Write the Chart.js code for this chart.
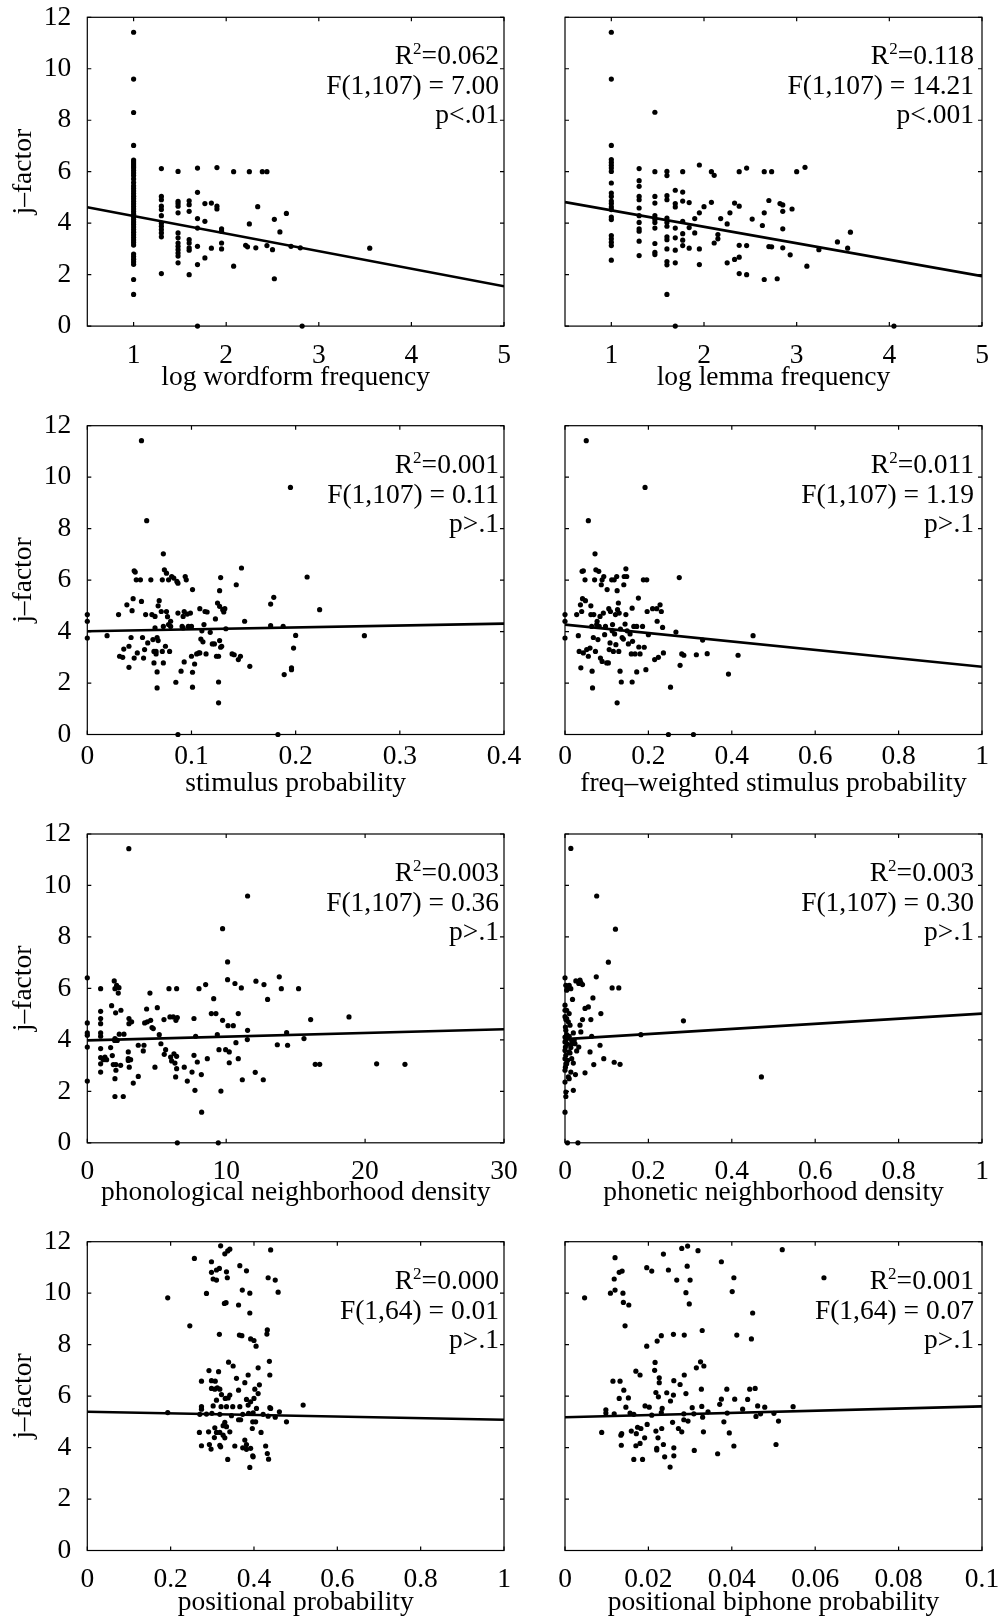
<!DOCTYPE html>
<html>
<head>
<meta charset="utf-8">
<script src="https://cdn.jsdelivr.net/npm/chart.js@4.4.0/dist/chart.umd.min.js"></script>
<style>
  html, body { margin: 0; padding: 0; background: #fff; overflow: hidden; }
  body { width: 1001px; height: 1619px; position: relative; }
  canvas { position: absolute; }
</style>
</head>
<body>
<script>
// tick labels
const jTicks = [0, 2, 4, 6, 8, 10, 12];
const freqTicks = [1, 2, 3, 4, 5];
const stimTicks = [0, 0.1, 0.2, 0.3, 0.4];
const unitTicks = [0, 0.2, 0.4, 0.6, 0.8, 1];
const densTicks = [0, 10, 20, 30];
const biphoneTicks = [0, 0.02, 0.04, 0.06, 0.08, 0.1];

const xTitles = ['log wordform frequency', 'log lemma frequency', 'stimulus probability',
  'freq\u2013weighted stimulus probability', 'phonological neighborhood density',
  'phonetic neighborhood density', 'positional probability', 'positional biphone probability'];

// fit statistics shown in each panel
const r2Values = ['0.062', '0.118', '0.001', '0.011', '0.003', '0.003', '0.000', '0.001'];
const fValues = ['F(1,107) = 7.00', 'F(1,107) = 14.21', 'F(1,107) = 0.11', 'F(1,107) = 1.19',
  'F(1,107) = 0.36', 'F(1,107) = 0.30', 'F(1,64) = 0.01', 'F(1,64) = 0.07'];
const pValues = ['p<.01', 'p<.001', 'p>.1', 'p>.1', 'p>.1', 'p>.1', 'p>.1', 'p>.1'];

// regression line end points [x, j-factor]
const wordformFit = [[0.5, 4.62], [5, 1.55]];
const lemmaFit = [[0.5, 4.82], [5, 1.94]];
const stimFit = [[0, 4.01], [0.4, 4.31]];
const fwStimFit = [[0, 4.27], [1, 2.63]];
const phonFit = [[0, 3.98], [30, 4.41]];
const phonetFit = [[0, 4.03], [1, 5.02]];
const posFit = [[0, 5.39], [1, 5.08]];
const biphoneFit = [[0, 5.18], [0.1, 5.60]];

// scatter points [x, j-factor]
const wordformPts = [
  [1,11.42],[1,9.6],[1,8.3],[1,7.02],[1,6.45],[1,6.38],[1,6.3],[1,6.22],[1,6.15],[1,6.05],[1,5.95],[1,5.85],
  [1,5.72],[1,5.58],[1,5.45],[1,5.35],[1,5.25],[1,5.15],[1,5.05],[1,4.95],[1,4.85],[1,4.75],[1,4.65],[1,4.55],
  [1,4.45],[1,4.35],[1,4.25],[1,4.15],[1,4.05],[1,3.95],[1,3.85],[1,3.75],[1,3.65],[1,3.55],[1,3.45],[1,3.35],
  [1,3.25],[1,3.15],[1,2.8],[1,2.7],[1,2.6],[1,2.5],[1,2.4],[1,1.81],[1,1.23],
  [1.3,6.12],[1.3,5.04],[1.3,4.91],[1.3,4.66],[1.3,4.53],[1.3,4.29],[1.3,4.0],[1.3,3.88],[1.3,3.75],[1.3,3.62],[1.3,3.47],[1.3,2.04],
  [1.48,6.01],[1.48,4.85],[1.48,4.76],[1.48,4.66],[1.48,4.4],[1.48,3.62],[1.48,3.43],[1.48,3.23],[1.48,3.1],[1.48,2.97],[1.48,2.84],[1.48,2.72],[1.48,2.46],
  [1.6,4.87],[1.6,4.72],[1.6,4.46],[1.6,3.36],[1.6,3.23],[1.6,3.04],[1.6,2.95],[1.6,2.0],
  [1.69,6.14],[1.69,5.2],[1.69,4.18],[1.69,3.81],[1.69,3.1],[1.69,2.39],[1.69,0],
  [1.77,4.76],[1.77,4.07],[1.77,2.65],[1.84,4.78],[1.84,3.03],[1.9,6.16],[1.9,4.66],[1.9,4.55],
  [1.95,3.78],[1.95,3.69],[1.95,3.23],[1.95,3.0],[2.08,6.0],[2.08,2.33],[2.21,3.14],[2.23,3.08],
  [2.25,6.0],[2.25,3.97],[2.32,3.04],[2.34,4.64],[2.39,6.0],[2.44,6.0],[2.44,3.13],[2.5,2.97],
  [2.52,4.15],[2.52,1.84],[2.58,3.66],[2.65,4.38],[2.7,3.1],[2.8,3.04],[2.82,0],[3.55,3.03]
];
const lemmaPts = [
  [1,11.42],[1,9.6],[1,7.02],[1,6.47],[1,6.36],[1,6.25],[1,6.14],[1,6.01],[1,5.56],[1,5.17],[1,5.04],[1,4.86],
  [1,4.76],[1,4.63],[1,4.53],[1,4.24],[1,4.14],[1,3.52],[1,3.39],[1,3.26],[1,3.13],[1,2.56],
  [1.3,6.12],[1.3,5.65],[1.3,5.43],[1.3,5.04],[1.3,4.91],[1.3,4.59],[1.3,4.29],[1.3,4.03],[1.3,3.78],[1.3,3.69],[1.3,3.3],[1.3,2.74],
  [1.47,8.31],[1.47,6.0],[1.47,5.04],[1.47,4.78],[1.47,4.29],[1.47,4.14],[1.47,4.03],[1.47,3.81],[1.47,3.21],[1.47,2.87],[1.47,2.78],
  [1.6,6.01],[1.6,5.85],[1.6,5.07],[1.6,4.91],[1.6,4.2],[1.6,4.03],[1.6,3.88],[1.6,3.47],[1.6,3.36],[1.6,3.0],[1.6,2.51],[1.6,2.38],[1.6,1.23],
  [1.69,5.28],[1.69,4.76],[1.69,4.63],[1.69,3.81],[1.69,3.43],[1.69,2.95],[1.69,2.46],[1.69,0],
  [1.77,6.0],[1.77,5.21],[1.77,4.86],[1.77,4.07],[1.77,3.59],[1.77,3.34],[1.77,3.13],
  [1.84,4.8],[1.84,3.83],[1.84,3.03],[1.9,4.18],[1.9,3.62],[1.95,6.26],[1.95,4.4],[1.95,3.0],[1.95,2.39],
  [2.0,4.64],[2.08,6.0],[2.08,4.81],[2.11,5.86],[2.11,3.23],[2.15,3.56],[2.15,3.39],[2.18,4.18],
  [2.25,3.97],[2.25,2.46],[2.28,4.4],[2.33,4.78],[2.33,2.59],[2.38,6.0],[2.38,4.66],[2.38,3.14],[2.38,2.68],[2.38,2.04],
  [2.46,6.14],[2.46,3.13],[2.46,2.0],[2.52,4.16],[2.63,3.91],[2.65,6.0],[2.65,4.4],[2.65,1.81],[2.7,4.88],[2.7,3.09],
  [2.73,6.0],[2.73,3.08],[2.79,1.84],[2.82,4.76],[2.85,4.71],[2.85,4.46],[2.85,3.78],[2.85,3.04],[2.93,2.77],[2.95,4.55],
  [3.0,6.0],[3.09,6.17],[3.11,2.33],[3.24,2.97],[3.44,3.27],[3.55,3.03],[3.58,3.65],[4.05,0]
];
const stimPts = [
  [0,4.66],[0,4.40],[0,3.75],[0.019,3.84],[0.030,4.66],[0.031,3.04],[0.034,3.0],[0.035,3.32],[0.038,5.04],
  [0.040,3.43],[0.040,2.61],[0.042,3.77],[0.043,4.81],[0.044,5.28],[0.045,2.97],[0.045,6.36],[0.046,6.31],
  [0.047,6.01],[0.048,3.17],[0.051,6.01],[0.052,5.17],[0.052,11.42],[0.053,3.77],[0.054,2.97],[0.055,3.30],
  [0.056,4.66],[0.057,8.31],[0.058,3.56],[0.061,6.01],[0.062,4.66],[0.063,3.69],[0.064,3.23],[0.064,2.78],
  [0.065,4.14],[0.065,4.59],[0.066,3.13],[0.066,3.23],[0.067,2.43],[0.067,1.81],[0.067,3.77],[0.068,5.0],
  [0.068,3.65],[0.069,5.2],[0.071,4.78],[0.072,6.01],[0.072,3.23],[0.073,7.02],[0.073,2.78],[0.073,4.2],
  [0.074,6.40],[0.075,3.43],[0.076,4.78],[0.076,6.27],[0.077,4.58],[0.078,6.01],[0.078,4.27],[0.079,3.23],
  [0.080,4.40],[0.080,4.2],[0.081,6.14],[0.083,6.08],[0.085,2.03],[0.086,5.95],[0.087,4.72],[0.087,0],
  [0.087,5.88],[0.090,2.46],[0.091,4.2],[0.092,4.59],[0.092,4.14],[0.093,2.82],[0.093,4.78],[0.094,6.14],
  [0.095,6.01],[0.096,4.68],[0.097,4.2],[0.099,4.72],[0.100,4.2],[0.100,3.04],[0.101,1.84],[0.101,2.42],
  [0.101,5.63],[0.103,2.74],[0.105,3.13],[0.107,3.17],[0.108,4.89],[0.108,3.17],[0.109,3.71],[0.110,4.03],
  [0.111,3.6],[0.112,4.27],[0.113,4.78],[0.114,3.13],[0.115,4.76],[0.118,3.97],[0.120,3.52],[0.122,3.52],
  [0.123,4.49],[0.124,3.04],[0.125,5.11],[0.126,2.04],[0.126,1.23],[0.126,3.04],[0.127,3.65],[0.127,5.59],
  [0.127,4.98],[0.128,6.10],[0.128,3.39],[0.129,3.43],[0.130,4.85],[0.131,4.76],[0.132,4.89],[0.133,4.11],
  [0.139,3.13],[0.141,3.10],[0.143,5.82],[0.145,2.91],[0.147,3.04],[0.148,6.47],[0.151,4.40],[0.156,2.65],
  [0.176,4.23],[0.176,5.07],[0.179,5.33],[0.183,0],[0.188,4.2],[0.189,2.33],[0.195,9.6],[0.196,2.52],
  [0.196,2.59],[0.198,3.36],[0.200,3.85],[0.211,6.12],[0.223,4.85],[0.266,3.84]
];
const fwStimPts = [
  [0,4.66],[0,4.40],[0,3.75],[0.028,4.66],[0.032,3.84],[0.034,3.23],[0.037,5.04],[0.038,2.59],[0.040,4.78],
  [0.041,6.34],[0.042,5.28],[0.044,6.36],[0.044,3.17],[0.048,6.01],[0.049,5.2],[0.051,11.42],[0.052,3.30],
  [0.056,8.31],[0.056,3.04],[0.060,3.36],[0.062,4.66],[0.062,5.0],[0.064,4.2],[0.065,2.46],[0.066,1.81],
  [0.068,3.77],[0.069,4.66],[0.071,6.01],[0.072,7.02],[0.073,3.23],[0.074,6.40],[0.076,4.27],[0.077,4.40],
  [0.079,3.69],[0.081,6.34],[0.082,4.2],[0.084,4.59],[0.085,2.97],[0.087,5.82],[0.089,6.01],[0.089,2.84],
  [0.092,4.72],[0.093,6.14],[0.095,3.88],[0.097,4.2],[0.100,2.78],[0.101,5.63],[0.104,2.78],[0.105,4.89],
  [0.106,3.30],[0.108,3.56],[0.109,4.78],[0.112,6.01],[0.113,4.03],[0.114,4.27],[0.116,3.23],[0.118,6.01],
  [0.119,3.91],[0.121,4.66],[0.122,3.49],[0.124,6.14],[0.125,1.23],[0.125,5.59],[0.126,4.85],[0.128,5.11],
  [0.129,3.23],[0.130,4.72],[0.132,2.46],[0.133,4.10],[0.135,2.04],[0.137,3.77],[0.140,3.71],[0.141,5.82],
  [0.142,6.14],[0.144,4.29],[0.146,4.66],[0.146,6.44],[0.148,6.14],[0.149,4.03],[0.152,3.52],[0.156,3.91],
  [0.159,3.13],[0.161,4.91],[0.161,2.04],[0.162,3.62],[0.165,4.2],[0.168,3.13],[0.172,4.2],[0.172,2.43],
  [0.176,5.3],[0.177,3.40],[0.180,3.13],[0.186,4.2],[0.188,6.01],[0.190,3.39],[0.192,9.6],[0.194,2.52],
  [0.196,6.01],[0.197,4.78],[0.200,3.88],[0.210,4.89],[0.215,2.91],[0.220,4.89],[0.221,4.40],[0.224,3.0],
  [0.228,5.04],[0.231,4.78],[0.234,4.16],[0.236,3.17],[0.248,0],[0.253,1.84],[0.266,3.98],[0.274,6.10],
  [0.276,2.69],[0.280,3.13],[0.285,3.08],[0.308,0],[0.315,3.10],[0.330,3.67],[0.341,3.14],[0.392,2.35],
  [0.415,3.08],[0.451,3.84]
];
const phonPts = [
  [0,6.41],[0,4.66],[0,4.27],[0,4.18],[0,3.72],[0,2.40],[0.96,5.99],[0.96,5.11],[0.96,4.83],[0.96,4.63],
  [0.96,4.27],[0.96,4.14],[0.96,3.66],[0.96,3.31],[0.96,3.07],[0.96,2.75],[1.15,3.23],[1.27,3.33],[1.39,3.23],
  [1.68,3.70],[1.75,5.33],[1.80,3.39],[1.87,3.04],[1.94,6.29],[1.97,3.98],[1.99,5.99],[1.99,4.05],[1.99,2.49],
  [1.99,1.80],[2.04,5.05],[2.06,2.82],[2.06,3.04],[2.11,6.12],[2.16,3.98],[2.23,5.82],[2.28,6.03],[2.30,4.22],
  [2.40,3.01],[2.42,5.15],[2.59,1.80],[2.64,4.22],[2.95,3.53],[2.95,3.20],[2.95,3.27],[3.0,4.63],[3.0,4.83],
  [3.02,2.94],[3.12,3.23],[3.19,4.70],[3.31,2.32],[3.67,2.58],[3.67,3.79],[4.03,3.57],[4.08,3.79],[4.13,4.66],
  [4.27,5.20],[4.32,4.70],[4.51,5.82],[4.56,4.76],[4.66,4.48],[4.75,4.44],[4.87,2.94],[5.04,5.25],[5.18,4.20],
  [5.30,3.85],[5.52,4.79],[5.54,3.44],[5.64,3.62],[5.88,5.99],[5.95,4.89],[6.0,3.33],[6.07,3.18],[6.19,4.89],
  [6.24,3.46],[6.31,3.10],[6.36,2.56],[6.38,4.76],[6.43,5.99],[6.43,3.36],[6.43,2.88],[6.48,4.87],[6.48,0],
  [6.98,2.94],[7.20,2.40],[7.54,2.75],[7.68,4.83],[7.68,3.40],[7.75,2.04],[7.80,4.14],[7.92,3.14],[8.04,5.99],
  [8.21,2.65],[8.23,1.19],[8.52,6.15],[8.64,3.27],[8.93,5.02],[9.10,5.60],[9.26,5.02],[9.36,4.20],[9.43,0],
  [9.48,3.62],[9.62,2.01],[9.74,8.32],[9.74,4.76],[9.96,3.62],[10.10,7.03],[10.10,6.34],[10.13,4.55],
  [10.22,3.53],[10.22,3.11],[10.51,4.55],[10.63,6.19],[10.70,3.89],[10.87,5.02],[10.87,3.27],[11.09,6.02],
  [11.16,2.45],[11.54,9.59],[11.54,4.37],[11.52,4.01],[12.09,2.74],[12.14,6.28],[12.67,2.45],[12.72,6.15],
  [12.98,5.57],[13.68,3.81],[13.82,6.45],[13.97,5.99],[14.35,4.28],[14.42,3.79],[15.21,5.99],[15.60,4.05],
  [16.08,4.79],[16.41,3.05],[16.73,3.05],[18.84,4.89],[20.83,3.07],[22.87,3.05],[2.99,11.43]
];
const phonetPts = [
  [0.014,11.44],[0.076,9.59],[0.121,8.30],[0.104,7.02],[0.075,6.45],[0,6.41],[0.026,6.29],[0.036,6.32],
  [0.038,6.23],[0.042,6.15],[0.033,6.19],[0.113,6.02],[0.129,6.02],[0.002,6.12],[0.006,6.06],[0.010,6.12],
  [0.014,5.99],[0.004,5.93],[0.018,5.57],[0.067,5.63],[0.056,5.28],[0.048,5.22],[0.086,5.02],[0.010,5.02],
  [0,5.35],[0,5.15],[0.062,4.79],[0.042,4.79],[0.004,4.83],[0.008,4.70],[0.284,4.74],[0.036,4.57],[0.012,4.57],
  [0.001,4.50],[0.002,4.37],[0.038,4.31],[0.020,4.27],[0.064,4.14],[0.182,4.20],[0.004,4.20],[0.010,4.14],
  [0.002,3.98],[0.016,3.98],[0.024,3.85],[0.006,3.83],[0.084,3.79],[0.014,3.70],[0,3.59],[0.060,3.53],
  [0.010,3.53],[0.002,3.40],[0.016,3.27],[0.093,3.27],[0.006,3.20],[0.020,3.10],[0.118,3.13],[0.132,3.05],
  [0.069,3.04],[0.001,2.94],[0.014,2.75],[0.048,2.72],[0.025,2.65],[0.008,2.56],[0.010,2.49],[0.471,2.56],
  [0,2.36],[0.020,2.04],[0.002,1.97],[0.002,1.80],[0,1.19],[0.006,0],[0.031,0],[0,4.90],[0.002,4.79],
  [0,4.11],[0,3.92],[0.001,3.72],[0,3.27],[0.002,3.07],[0,2.82],[0.004,5.15],[0.004,3.07],[0.012,3.49],
  [0.022,3.98],[0.028,3.57],[0.033,3.72],[0.016,3.85]
];
const posPts = [
  [0.32,11.84],[0.33,11.53],[0.337,11.64],[0.342,11.71],[0.44,11.68],[0.257,11.35],[0.298,11.22],[0.366,11.07],
  [0.317,10.96],[0.31,10.90],[0.382,10.87],[0.334,10.83],[0.298,10.81],[0.302,10.55],[0.31,10.51],[0.336,10.60],
  [0.434,10.60],[0.451,10.51],[0.193,9.82],[0.286,9.99],[0.372,10.12],[0.39,10.00],[0.458,10.04],[0.329,9.60],
  [0.333,9.63],[0.363,9.54],[0.39,9.23],[0.246,8.73],[0.317,8.40],[0.365,8.37],[0.371,8.35],[0.392,8.22],
  [0.40,8.16],[0.405,7.94],[0.432,8.57],[0.431,8.41],[0.339,7.32],[0.437,7.35],[0.35,7.17],[0.41,7.10],
  [0.292,6.99],[0.315,6.95],[0.386,6.82],[0.438,6.82],[0.358,6.69],[0.274,6.58],[0.298,6.60],[0.307,6.58],
  [0.378,6.52],[0.413,6.44],[0.312,6.32],[0.298,6.30],[0.306,6.27],[0.318,6.27],[0.402,6.27],[0.363,6.23],
  [0.322,6.06],[0.342,6.04],[0.338,5.93],[0.41,6.10],[0.31,5.84],[0.331,5.91],[0.382,5.87],[0.40,5.91],
  [0.392,5.78],[0.386,5.65],[0.274,5.59],[0.302,5.62],[0.321,5.59],[0.334,5.59],[0.349,5.59],[0.366,5.59],
  [0.406,5.52],[0.44,5.52],[0.518,5.65],[0.274,5.49],[0.193,5.36],[0.27,5.29],[0.286,5.30],[0.299,5.33],
  [0.318,5.29],[0.346,5.24],[0.373,5.29],[0.387,5.33],[0.398,5.35],[0.422,5.29],[0.434,5.22],[0.451,5.18],
  [0.461,5.39],[0.438,5.55],[0.363,5.08],[0.368,5.08],[0.397,5.00],[0.404,5.00],[0.478,5.00],[0.33,4.98],
  [0.334,4.81],[0.326,4.85],[0.396,4.74],[0.306,4.77],[0.291,4.61],[0.269,4.59],[0.31,4.59],[0.318,4.59],
  [0.342,4.61],[0.417,4.59],[0.326,4.48],[0.305,4.39],[0.33,4.38],[0.378,4.29],[0.382,4.12],[0.274,4.07],
  [0.293,4.12],[0.318,4.09],[0.32,4.03],[0.354,4.06],[0.428,4.06],[0.297,3.94],[0.373,3.99],[0.382,3.93],
  [0.392,3.97],[0.397,3.68],[0.398,3.64],[0.432,3.77],[0.435,3.55],[0.337,3.54],[0.39,3.23]
];
const biphonePts = [
  [0.0294,11.83],[0.028,11.74],[0.0319,11.65],[0.0521,11.69],[0.0236,11.52],[0.012,11.38],[0.0375,11.22],
  [0.0293,11.05],[0.0196,10.99],[0.0208,10.86],[0.0248,10.90],[0.013,10.81],[0.0137,10.86],[0.0118,10.55],
  [0.0268,10.51],[0.030,10.51],[0.0405,10.60],[0.0621,10.60],[0.012,10.12],[0.0109,10.00],[0.0139,10.00],
  [0.029,10.02],[0.0401,10.06],[0.0047,9.82],[0.0140,9.64],[0.0153,9.54],[0.0298,9.58],[0.045,9.23],
  [0.0144,8.73],[0.0196,7.94],[0.0221,8.14],[0.0231,8.35],[0.026,8.40],[0.0286,8.37],[0.0329,8.55],
  [0.0412,8.37],[0.0447,8.22],[0.0216,7.31],[0.0325,7.33],[0.0315,7.10],[0.0333,7.17],[0.017,6.97],
  [0.0215,7.00],[0.018,6.82],[0.0286,6.82],[0.0115,6.58],[0.0132,6.58],[0.0226,6.71],[0.0226,6.52],
  [0.0261,6.60],[0.0276,6.45],[0.0141,6.23],[0.0218,6.14],[0.0224,5.97],[0.0244,6.13],[0.026,6.04],
  [0.029,6.10],[0.0327,6.27],[0.0388,6.27],[0.0443,6.27],[0.0456,6.30],[0.0130,5.91],[0.0152,5.93],
  [0.0253,5.81],[0.0375,5.88],[0.0407,5.88],[0.0438,5.87],[0.0192,5.62],[0.0202,5.57],[0.0146,5.57],
  [0.0371,5.68],[0.0305,5.55],[0.0328,5.60],[0.0233,5.52],[0.0426,5.49],[0.0462,5.62],[0.0479,5.57],
  [0.0547,5.59],[0.0098,5.47],[0.0098,5.34],[0.0118,5.31],[0.0156,5.34],[0.0165,5.29],[0.0208,5.26],
  [0.0231,5.36],[0.0285,5.31],[0.0309,5.31],[0.0343,5.39],[0.0389,5.34],[0.0330,5.18],[0.0469,5.31],
  [0.0458,5.21],[0.0501,5.33],[0.0285,5.08],[0.0295,5.03],[0.0258,4.98],[0.0381,5.00],[0.0512,5.03],
  [0.0197,4.90],[0.0174,4.79],[0.0232,4.74],[0.0272,4.74],[0.0159,4.64],[0.0182,4.74],[0.0218,4.64],
  [0.0280,4.61],[0.0332,4.61],[0.0394,4.57],[0.0088,4.59],[0.0136,4.54],[0.0134,4.48],[0.0171,4.54],
  [0.0191,4.38],[0.0223,4.38],[0.0180,4.16],[0.0135,4.09],[0.0170,4.07],[0.0236,4.12],[0.0220,3.97],
  [0.0220,3.91],[0.0261,3.99],[0.0405,4.06],[0.0506,4.12],[0.0310,3.89],[0.0366,3.76],[0.0239,3.64],
  [0.0261,3.68],[0.0165,3.54],[0.0186,3.54],[0.0252,3.24]
];

const FONT = "'Liberation Serif', 'Times New Roman', serif";
const FS = 27.5;

const panels = [
  { pts: wordformPts, fit: wordformFit, ticks: freqTicks, min: 0.5, max: 5 },
  { pts: lemmaPts, fit: lemmaFit, ticks: freqTicks, min: 0.5, max: 5 },
  { pts: stimPts, fit: stimFit, ticks: stimTicks, min: 0, max: 0.4 },
  { pts: fwStimPts, fit: fwStimFit, ticks: unitTicks, min: 0, max: 1 },
  { pts: phonPts, fit: phonFit, ticks: densTicks, min: 0, max: 30 },
  { pts: phonetPts, fit: phonetFit, ticks: unitTicks, min: 0, max: 1 },
  { pts: posPts, fit: posFit, ticks: unitTicks, min: 0, max: 1 },
  { pts: biphonePts, fit: biphoneFit, ticks: biphoneTicks, min: 0, max: 0.1 }
];

// per-row layout (MATLAB subplot spacing is not quite even)
const rowTop = [0, 408, 816, 1224];
const rowPadTop = [17.3, 17.7, 18, 17.7];
const plotH = 308.8;
const xAxisH = 70;
const rowTickPad = [5.5, -1.8, 4.8, 4.7];
const rowTitlePad = [1.8, 3.8, 3.8, 0.8];

// MATLAB-style box with inward ticks, plus the fit statistics
const boxPlugin = {
  id: 'matlabBox',
  afterDraw(chart) {
    const { ctx, chartArea: a, scales } = chart;
    const k = chart.options.plugins.matlabBox.panel;
    const col = k % 2;
    ctx.save();
    ctx.strokeStyle = '#000';
    ctx.lineWidth = 1.2;
    ctx.strokeRect(a.left, a.top, a.right - a.left, a.bottom - a.top);
    ctx.beginPath();
    scales.x.ticks.forEach(t => {
      const px = scales.x.getPixelForValue(t.value);
      ctx.moveTo(px, a.bottom); ctx.lineTo(px, a.bottom - 4);
      ctx.moveTo(px, a.top); ctx.lineTo(px, a.top + 4);
    });
    scales.y.ticks.forEach(t => {
      const py = scales.y.getPixelForValue(t.value);
      ctx.moveTo(a.left, py); ctx.lineTo(a.left + 4, py);
      ctx.moveTo(a.right, py); ctx.lineTo(a.right - 4, py);
    });
    ctx.stroke();

    ctx.fillStyle = '#000';
    ctx.textBaseline = 'alphabetic';
    ctx.textAlign = 'left';
    const xr = a.right - (col === 0 ? 5 : 8);
    const big = FS + 'px ' + FONT;
    const small = '17px ' + FONT;
    const rest = '=' + r2Values[k];
    ctx.font = big;
    const wRest = ctx.measureText(rest).width;
    const wR = ctx.measureText('R').width;
    ctx.font = small;
    const w2 = ctx.measureText('2').width;
    const x = xr - wRest - w2 - wR;
    const y1 = a.top + 47;
    ctx.font = big;
    ctx.fillText('R', x, y1);
    ctx.font = small;
    ctx.fillText('2', x + wR, y1 - 10);
    ctx.font = big;
    ctx.fillText(rest, x + wR + w2, y1);
    ctx.textAlign = 'right';
    ctx.fillText(fValues[k], xr, a.top + 77);
    ctx.fillText(pValues[k], xr, a.top + 106);
    ctx.restore();
  }
};

panels.forEach(function(p, k) {
  const row = Math.floor(k / 2), col = k % 2;
  const canvas = document.createElement('canvas');
  const w = col === 0 ? 540 : 500;
  canvas.width = w;
  canvas.height = 408;
  canvas.style.left = (col === 0 ? 0 : 520) + 'px';
  canvas.style.top = rowTop[row] + 'px';
  canvas.style.width = w + 'px';
  canvas.style.height = '408px';
  document.body.appendChild(canvas);

  const padTop = rowPadTop[row];
  const padBottom = 408 - padTop - plotH - xAxisH;

  new Chart(canvas.getContext('2d'), {
    type: 'scatter',
    data: {
      datasets: [{
        data: p.fit.map(d => ({ x: d[0], y: d[1] })),
        showLine: true,
        borderColor: '#000',
        borderWidth: 2.6,
        pointRadius: 0,
        fill: false
      }, {
        data: p.pts.map(d => ({ x: d[0], y: d[1] })),
        backgroundColor: '#000',
        borderWidth: 0,
        pointRadius: 2.6,
        clip: false
      }]
    },
    options: {
      responsive: false,
      animation: false,
      events: [],
      layout: { padding: { top: padTop, bottom: padBottom, left: 0, right: col === 0 ? 36 : 38 } },
      plugins: {
        legend: { display: false },
        tooltip: { enabled: false },
        matlabBox: { panel: k }
      },
      scales: {
        x: {
          type: 'linear',
          min: p.min,
          max: p.max,
          afterBuildTicks: s => { s.ticks = p.ticks.map(v => ({ value: v })); },
          afterFit: s => { s.height = xAxisH; s.paddingLeft = 0; s.paddingRight = 0; },
          grid: { display: false },
          border: { display: false },
          ticks: {
            color: '#000',
            font: { family: FONT, size: FS },
            padding: rowTickPad[row],
            maxRotation: 0,
            autoSkip: false,
            callback: v => String(v)
          },
          title: {
            display: true,
            text: xTitles[k],
            color: '#000',
            font: { family: FONT, size: FS },
            padding: { top: 0, bottom: rowTitlePad[row] }
          }
        },
        y: {
          type: 'linear',
          min: 0,
          max: 12,
          afterBuildTicks: s => { s.ticks = jTicks.map(v => ({ value: v })); },
          afterFit: s => { s.width = col === 0 ? 87.3 : 45; s.paddingTop = 0; s.paddingBottom = 0; },
          grid: { display: false },
          border: { display: false },
          ticks: {
            display: col === 0,
            color: '#000',
            font: { family: FONT, size: FS },
            padding: 8,
            autoSkip: false,
            callback: v => String(v)
          },
          title: {
            display: col === 0,
            text: 'j\u2013factor',
            color: '#000',
            font: { family: FONT, size: FS },
            padding: { top: 7.6, bottom: 0 }
          }
        }
      }
    },
    plugins: [boxPlugin]
  });
});
</script>
</body>
</html>
